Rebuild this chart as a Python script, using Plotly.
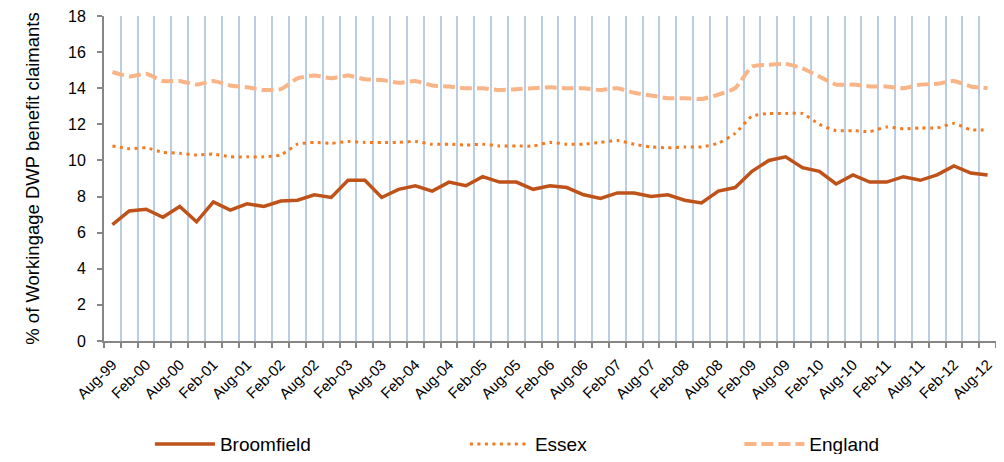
import plotly.graph_objects as go

labels_every_6m = ["Aug-99", "Feb-00", "Aug-00", "Feb-01", "Aug-01", "Feb-02", "Aug-02",
                   "Feb-03", "Aug-03", "Feb-04", "Aug-04", "Feb-05", "Aug-05", "Feb-06",
                   "Aug-06", "Feb-07", "Aug-07", "Feb-08", "Aug-08", "Feb-09", "Aug-09",
                   "Feb-10", "Aug-10", "Feb-11", "Aug-11", "Feb-12", "Aug-12"]

broomfield = [6.45, 7.2, 7.3, 6.85, 7.45, 6.6, 7.7, 7.25, 7.6,
              7.45, 7.75, 7.8, 8.1, 7.95, 8.9, 8.9, 7.95, 8.4,
              8.6, 8.3, 8.8, 8.6, 9.1, 8.8, 8.8, 8.4,
              8.6, 8.5, 8.1, 7.9, 8.2, 8.2, 8.0, 8.1, 7.8,
              7.65, 8.3, 8.5, 9.4, 10.0, 10.2, 9.6, 9.4, 8.7,
              9.2, 8.8, 8.8, 9.1, 8.9, 9.2, 9.7, 9.3, 9.2]

essex = [10.8, 10.65, 10.7, 10.45, 10.4, 10.3, 10.35, 10.2, 10.2,
         10.2, 10.3, 10.9, 11.0, 10.95, 11.05, 11.0, 11.0, 11.0,
         11.05, 10.9, 10.9, 10.85, 10.9, 10.8, 10.8, 10.8,
         11.0, 10.9, 10.9, 11.0, 11.1, 10.9, 10.75, 10.7, 10.75,
         10.75, 10.95, 11.5, 12.45, 12.6, 12.6, 12.6, 12.0, 11.65,
         11.65, 11.6, 11.85, 11.75, 11.8, 11.8, 12.05, 11.7, 11.7]

england = [14.9, 14.65, 14.8, 14.4, 14.4, 14.2, 14.4, 14.15, 14.05,
           13.9, 13.95, 14.55, 14.7, 14.55, 14.7, 14.5, 14.45, 14.3,
           14.4, 14.15, 14.1, 14.0, 14.0, 13.9, 13.95, 14.0,
           14.05, 14.0, 14.0, 13.9, 14.0, 13.75, 13.6, 13.45, 13.45,
           13.4, 13.65, 14.0, 15.2, 15.3, 15.35, 15.1, 14.65, 14.2,
           14.2, 14.1, 14.1, 14.0, 14.2, 14.25, 14.4, 14.1, 14.0]

x = list(range(len(broomfield)))
tickvals = x[::2]

FONT = "Liberation Sans, Arial, sans-serif"

fig = go.Figure()
fig.add_trace(go.Scatter(x=x, y=broomfield, name="Broomfield", mode="lines",
                         line=dict(color="#BF5219", width=3.5), legend="legend"))
fig.add_trace(go.Scatter(x=x, y=essex, name="Essex", mode="lines",
                         line=dict(color="#F47B20", width=3, dash="3px,4.5px",
                                   shape="spline", smoothing=0.5), legend="legend2"))
fig.add_trace(go.Scatter(x=x, y=england, name="England", mode="lines",
                         line=dict(color="#F9B487", width=4, dash="12px,5px",
                                   shape="spline", smoothing=0.5), legend="legend3"))

legend_common = dict(orientation="h", yanchor="middle", y=-0.317, xanchor="left",
                     font=dict(family=FONT, size=19, color="#000000"),
                     bgcolor="rgba(0,0,0,0)", itemwidth=60)

# the page adds an 8px body margin; keep the whole figure inside the visible area
fig.update_layout(
    width=988, height=446,
    margin=dict(l=96, r=0, t=8, b=113, autoexpand=False),
    paper_bgcolor="white", plot_bgcolor="white",
    font=dict(family=FONT, color="#000000"),
    showlegend=True,
    legend=dict(legend_common, x=0.0515),
    legend2=dict(legend_common, x=0.4046),
    legend3=dict(legend_common, x=0.7123),
    xaxis=dict(
        range=[-0.5, 52.5], automargin=False,
        tickmode="array", tickvals=tickvals, ticktext=labels_every_6m,
        tickangle=-45, ticks="", showgrid=False, zeroline=False,
        ticklabelstandoff=7, ticklabeloverflow="allow",
        tickfont=dict(family=FONT, size=15, color="#000000"),
        showline=True, linecolor="#868686", linewidth=2,
        minor=dict(tick0=-0.5, dtick=1, ticks="outside", ticklen=5,
                   tickcolor="#868686", tickwidth=2,
                   showgrid=True, gridcolor="#B9CDE5", gridwidth=2),
    ),
    yaxis=dict(
        range=[0, 18], dtick=2, tick0=0, automargin=False,
        ticks="outside", ticklen=5, tickcolor="#868686", tickwidth=2,
        ticklabelstandoff=8, ticklabeloverflow="allow",
        showline=True, linecolor="#868686", linewidth=2,
        showgrid=False, zeroline=False,
        tickfont=dict(family=FONT, size=16, color="#000000"),
        title=dict(text="% of Workingage DWP benefit claimants",
                   font=dict(family=FONT, size=18.5, color="#000000"), standoff=24),
    ),
)

fig.write_html("out.html")
